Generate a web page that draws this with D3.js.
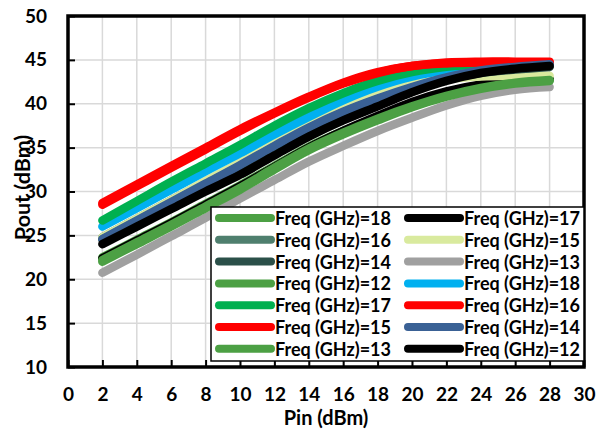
<!DOCTYPE html>
<html>
<head>
<meta charset="utf-8">
<script src="https://cdn.jsdelivr.net/npm/d3@7"></script>
<style>
  html, body { margin: 0; padding: 0; background: #fff; }
  svg { display: block; font-family: Lato, "Open Sans", sans-serif; font-weight: bold; }
</style>
</head>
<body>
<svg id="chart" width="598" height="432"></svg>
<script>
// ── Data ────────────────────────────────────────────────────────────────────
const PIN = [2, 4, 6, 8, 10, 12, 14, 16, 18, 20, 22, 24, 26, 28];
const X_TICKS = [0, 2, 4, 6, 8, 10, 12, 14, 16, 18, 20, 22, 24, 26, 28, 30];
const Y_TICKS = [10, 15, 20, 25, 30, 35, 40, 45, 50];

// legend / draw order (Excel fills the 2-column legend row by row)
const FREQ = [18, 17, 16, 15, 14, 13, 12, 18, 17, 16, 15, 14, 13, 12];

const poutA18 = [22.5, 24.5, 26.5, 28.6, 30.7, 32.9, 35.1, 36.9, 38.5, 40.0, 41.2, 42.0, 42.5, 42.8];
const poutA17 = [22.4, 24.4, 26.4, 28.5, 30.6, 32.8, 35.0, 36.9, 38.6, 40.2, 41.4, 42.2, 42.6, 42.8];
const poutA16 = [24.8, 26.9, 29.0, 31.1, 33.2, 35.4, 37.5, 39.3, 40.8, 42.0, 42.9, 43.6, 44.0, 44.3];
const poutA15 = [24.8, 26.9, 29.0, 31.2, 33.3, 35.6, 37.8, 39.7, 41.2, 42.2, 42.8, 43.1, 43.2, 43.2];
const poutA14 = [24.5, 26.6, 28.7, 30.8, 32.9, 35.1, 37.2, 39.0, 40.5, 41.8, 42.8, 43.5, 43.9, 44.2];
const poutA13 = [20.75, 22.8, 24.9, 27.0, 29.2, 31.3, 33.4, 35.2, 36.9, 38.4, 39.8, 40.9, 41.6, 41.9];
const poutA12 = [22.0, 24.0, 26.0, 28.1, 30.2, 32.5, 34.7, 36.5, 38.1, 39.6, 40.8, 41.7, 42.3, 42.6];
const poutB18 = [26.0, 28.1, 30.2, 32.3, 34.35, 36.5, 38.5, 40.4, 41.95, 43.1, 43.8, 44.2, 44.4, 44.5];
const poutB17 = [26.7, 28.9, 31.1, 33.2, 35.3, 37.5, 39.5, 41.2, 42.6, 43.6, 44.2, 44.5, 44.6, 44.6];
const poutB16 = [28.5, 30.6, 32.7, 34.8, 36.9, 38.9, 40.7, 42.3, 43.5, 44.3, 44.6, 44.7, 44.7, 44.7];
const poutB15 = [28.7, 30.8, 32.9, 35.0, 37.1, 39.0, 40.8, 42.4, 43.6, 44.3, 44.7, 44.8, 44.8, 44.8];
const poutB14 = [24.6, 26.7, 28.8, 30.9, 33.0, 35.2, 37.3, 39.1, 40.6, 41.9, 43.0, 43.8, 44.2, 44.5];
const poutB13 = [22.2, 24.2, 26.2, 28.3, 30.4, 32.7, 34.9, 36.7, 38.3, 39.7, 40.9, 41.8, 42.4, 42.7];
const poutB12 = [24.0, 26.0, 28.0, 30.0, 31.9, 34.1, 36.25, 38.1, 39.7, 41.3, 42.6, 43.5, 44.0, 44.3];

const POUT = [poutA18, poutA17, poutA16, poutA15, poutA14, poutA13, poutA12,
              poutB18, poutB17, poutB16, poutB15, poutB14, poutB13, poutB12];

// ── Styles ──────────────────────────────────────────────────────────────────
const COLORS = ['#4ca044', '#000000', '#4f7f6e', '#d9ea9e', '#2b5049', '#a0a0a0', '#4ca044',
                '#00b0f0', '#00b050', '#ff0000', '#ff0000', '#3a6195', '#4ca044', '#000000'];

const svg = d3.select('#chart');
const M = { left: 68, right: 584, top: 16, bottom: 367 };

const x = d3.scaleLinear().domain([0, 30]).range([M.left, M.right]);
const y = d3.scaleLinear().domain([10, 50]).range([M.bottom, M.top]);

// gridlines
const grid = svg.append('g');
X_TICKS.forEach(t => {
  grid.append('line')
    .attr('x1', x(t)).attr('x2', x(t))
    .attr('y1', M.top).attr('y2', M.bottom)
    .attr('stroke', '#d9d9d9').attr('stroke-width', 1.5);
});
Y_TICKS.forEach(t => {
  grid.append('line')
    .attr('x1', M.left).attr('x2', M.right)
    .attr('y1', y(t)).attr('y2', y(t))
    .attr('stroke', '#d9d9d9').attr('stroke-width', 1.5);
});

// series
const line = d3.line()
  .x((d, i) => x(PIN[i]))
  .y(d => y(d))
  .curve(d3.curveCatmullRom.alpha(0.5));

const linesG = svg.append('g');
POUT.forEach((vals, i) => {
  linesG.append('path')
    .attr('d', line(vals))
    .attr('fill', 'none')
    .attr('stroke', COLORS[i])
    .attr('stroke-width', 8.5)
    .attr('stroke-linecap', 'round')
    .attr('stroke-linejoin', 'round');
});

// axes (inner ticks)
const xAxis = svg.append('g')
  .attr('transform', `translate(0,${M.bottom})`)
  .call(d3.axisBottom(x).tickValues(X_TICKS).tickSizeInner(-7).tickSizeOuter(0).tickPadding(20.5));
const yAxis = svg.append('g')
  .attr('transform', `translate(${M.left},0)`)
  .call(d3.axisLeft(y).tickValues(Y_TICKS).tickSizeInner(-7).tickSizeOuter(0).tickPadding(21));

[xAxis, yAxis].forEach(a => {
  a.select('.domain').remove();
  a.selectAll('line').attr('stroke', '#000').attr('stroke-width', 2);
  a.selectAll('text')
    .attr('fill', '#000')
    .attr('font-size', '19px')
    .attr('font-family', 'Lato, sans-serif')
    .attr('font-weight', 'bold');
});

// frame
svg.append('rect')
  .attr('x', M.left).attr('y', M.top)
  .attr('width', M.right - M.left).attr('height', M.bottom - M.top)
  .attr('fill', 'none')
  .attr('stroke', '#000')
  .attr('stroke-width', 3.5);

// axis titles
svg.append('text')
  .attr('x', (M.left + M.right) / 2).attr('y', 425)
  .attr('text-anchor', 'middle')
  .attr('font-size', '20px')
  .text('Pin (dBm)');

svg.append('text')
  .attr('transform', `translate(30,${(M.top + M.bottom) / 2 - 4}) rotate(-90)`)
  .attr('text-anchor', 'middle')
  .attr('font-size', '21.5px')
  .text('Pout (dBm)');

// legend
const LEG = { x: 211, y: 207, w: 373, h: 154, rowH: 21.8, colW: 189 };
const legG = svg.append('g');
legG.append('rect')
  .attr('x', LEG.x).attr('y', LEG.y)
  .attr('width', LEG.w).attr('height', LEG.h)
  .attr('fill', '#fff')
  .attr('stroke', '#000')
  .attr('stroke-width', 1.5);

FREQ.forEach((f, i) => {
  const col = i % 2, row = Math.floor(i / 2);
  const lx = LEG.x + 8 + col * LEG.colW;
  const ly = LEG.y + 11 + row * LEG.rowH;
  legG.append('line')
    .attr('x1', lx).attr('x2', lx + 52)
    .attr('y1', ly).attr('y2', ly)
    .attr('stroke', COLORS[i])
    .attr('stroke-width', 8)
    .attr('stroke-linecap', 'round');
  legG.append('text')
    .attr('x', lx + 56).attr('y', ly)
    .attr('dominant-baseline', 'central')
    .attr('font-size', '18px')
    .text(`Freq (GHz)=${f}`);
});
</script>
</body>
</html>
